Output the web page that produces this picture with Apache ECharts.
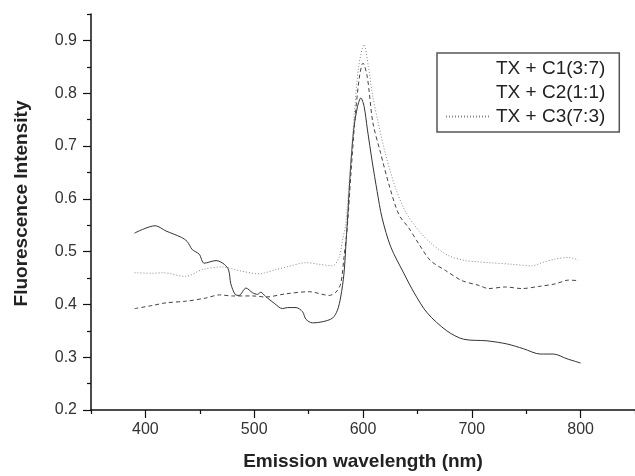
<!DOCTYPE html>
<html>
<head>
<meta charset="utf-8">
<script src="https://cdn.jsdelivr.net/npm/echarts@6/dist/echarts.min.js"></script>
<style>
html,body{margin:0;padding:0;background:#fff;}
#chart{width:635px;height:476px;}
</style>
</head>
<body>
<div id="chart"></div>
<script>
// ---- data ----
var seriesNames = ['TX + C1(3:7)', 'TX + C2(1:1)', 'TX + C3(7:3)'];

var c1X = [390, 409, 419, 433, 438.5, 443, 449.5, 454, 465, 472.5, 476.5, 478.5, 482.5, 486, 492.5, 498.5, 503, 506, 510.5, 518.5, 526, 530.5, 538.5, 544.5, 547.5, 553.5, 562.5, 572, 576.5, 579.5, 582.5, 584.5, 586, 588.5, 591.5, 595, 598, 601, 604, 608.5, 613, 617.5, 625.5, 637.5, 647, 659, 677, 692.5, 714, 732.5, 747.5, 763, 775, 787.5, 800];
var c1Y = [0.535, 0.549, 0.539, 0.527, 0.519, 0.504, 0.495, 0.478, 0.483, 0.476, 0.465, 0.439, 0.419, 0.417, 0.431, 0.422, 0.419, 0.423, 0.415, 0.402, 0.392, 0.394, 0.394, 0.386, 0.372, 0.365, 0.367, 0.374, 0.389, 0.414, 0.458, 0.520, 0.570, 0.657, 0.732, 0.775, 0.791, 0.775, 0.732, 0.670, 0.614, 0.564, 0.509, 0.459, 0.422, 0.384, 0.350, 0.334, 0.331, 0.325, 0.316, 0.306, 0.306, 0.297, 0.289];

var c2X = [390, 406.5, 419, 437, 455.5, 468, 480, 498.5, 510.5, 529, 550.5, 569, 575, 579.5, 582.5, 585.5, 589, 593, 597, 600, 604, 609, 616, 624, 633, 642, 651.5, 662, 676, 691, 706.5, 715.5, 731, 746, 761.5, 777, 789, 798];
var c2Y = [0.392, 0.398, 0.403, 0.406, 0.412, 0.418, 0.416, 0.416, 0.414, 0.420, 0.424, 0.417, 0.423, 0.439, 0.489, 0.545, 0.650, 0.760, 0.835, 0.857, 0.830, 0.745, 0.688, 0.626, 0.570, 0.545, 0.514, 0.483, 0.464, 0.445, 0.436, 0.430, 0.433, 0.430, 0.434, 0.439, 0.446, 0.445];

var c3X = [390, 406.5, 416, 437, 452.5, 471, 486, 504.5, 520, 532, 547.5, 559.5, 572, 578, 581, 584, 588, 592, 596, 601, 605, 609, 614, 621, 630, 639, 651.5, 663.5, 679, 694, 703.5, 715.5, 737, 755, 764.5, 777, 789, 798];
var c3Y = [0.460, 0.459, 0.460, 0.453, 0.466, 0.471, 0.464, 0.458, 0.466, 0.472, 0.479, 0.476, 0.473, 0.489, 0.520, 0.551, 0.650, 0.760, 0.850, 0.892, 0.850, 0.794, 0.744, 0.682, 0.620, 0.576, 0.539, 0.514, 0.492, 0.483, 0.481, 0.479, 0.476, 0.473, 0.479, 0.486, 0.489, 0.484];

var xMajorTicks = [400, 500, 600, 700, 800];
var xMinorTicks = [350, 450, 550, 650, 750, 850];
var yMajorTicks = [0.2, 0.3, 0.4, 0.5, 0.6, 0.7, 0.8, 0.9];
var yMinorTicks = [0.25, 0.35, 0.45, 0.55, 0.65, 0.75, 0.85, 0.95];

function pairs(xs, ys) { return xs.map(function (x, i) { return [x, ys[i]]; }); }

var chart = echarts.init(document.getElementById('chart'), null, {renderer: 'canvas'});
var FONT = 'Liberation Sans, Arial, Helvetica, sans-serif';

var baseX = {
  type: 'value', min: 350, max: 850, gridIndex: 0, position: 'bottom',
  splitLine: {show: false}
};
var baseY = {
  type: 'value', min: 0.2, max: 0.95, gridIndex: 0, position: 'left',
  splitLine: {show: false}
};

var option = {
  animation: false,
  backgroundColor: '#ffffff',
  grid: {left: 91, top: 14, width: 545, height: 400, containLabel: false},
  legend: {
    orient: 'vertical',
    left: 437, top: 53,
    padding: [6, 14, 6, 8],
    itemWidth: 45, itemHeight: 14, itemGap: 5,
    borderColor: '#555', borderWidth: 1.5,
    textStyle: {fontFamily: FONT, fontSize: 19, color: '#222'},
    data: [
      {name: seriesNames[0], lineStyle: {opacity: 0}, itemStyle: {opacity: 0}},
      {name: seriesNames[1], lineStyle: {opacity: 0}, itemStyle: {opacity: 0}},
      {name: seriesNames[2], itemStyle: {opacity: 0}}
    ]
  },
  xAxis: [
    Object.assign({}, baseX, {
      name: 'Emission wavelength (nm)',
      nameLocation: 'middle', nameGap: 42,
      nameTextStyle: {fontFamily: FONT, fontSize: 19, fontWeight: 'bold', color: '#222'},
      axisLine: {show: true, onZero: false, lineStyle: {color: '#111', width: 1.5}},
      axisTick: {show: true, inside: false, length: 8, customValues: xMajorTicks, lineStyle: {color: '#111', width: 1.2}},
      axisLabel: {show: true, margin: 12, customValues: xMajorTicks, fontFamily: FONT, fontSize: 16, color: '#333'}
    }),
    Object.assign({}, baseX, {
      axisLine: {show: false, onZero: false},
      axisTick: {show: true, inside: false, length: 4, customValues: xMinorTicks, lineStyle: {color: '#111', width: 1.2}},
      axisLabel: {show: false}
    })
  ],
  yAxis: [
    Object.assign({}, baseY, {
      name: 'Fluorescence Intensity',
      nameLocation: 'middle', nameGap: 60,
      nameTextStyle: {fontFamily: FONT, fontSize: 19, fontWeight: 'bold', color: '#222', padding: [0, 0, 0, 17]},
      axisLine: {show: true, onZero: false, lineStyle: {color: '#111', width: 1.5}},
      axisTick: {show: true, inside: false, length: 8, customValues: yMajorTicks, lineStyle: {color: '#111', width: 1.2}},
      axisLabel: {show: true, margin: 14, customValues: yMajorTicks, fontFamily: FONT, fontSize: 16, color: '#333',
        formatter: function (v) { return Number(v).toFixed(1); }}
    }),
    Object.assign({}, baseY, {
      axisLine: {show: false, onZero: false},
      axisTick: {show: true, inside: false, length: 4, customValues: yMinorTicks, lineStyle: {color: '#111', width: 1.2}},
      axisLabel: {show: false}
    })
  ],
  series: [
    {name: seriesNames[0], type: 'line', xAxisIndex: 0, yAxisIndex: 0, data: pairs(c1X, c1Y),
      showSymbol: false, symbol: 'none', smooth: 0.3,
      lineStyle: {color: '#333', width: 1, type: 'solid'}},
    {name: seriesNames[1], type: 'line', xAxisIndex: 0, yAxisIndex: 0, data: pairs(c2X, c2Y),
      showSymbol: false, symbol: 'none', smooth: 0.3,
      lineStyle: {color: '#444', width: 1, type: [4, 3]}},
    {name: seriesNames[2], type: 'line', xAxisIndex: 0, yAxisIndex: 0, data: pairs(c3X, c3Y),
      showSymbol: false, symbol: 'none', smooth: 0.3,
      lineStyle: {color: '#888', width: 1, type: [1, 2]}}
  ]
};
chart.setOption(option);
</script>
</body>
</html>
